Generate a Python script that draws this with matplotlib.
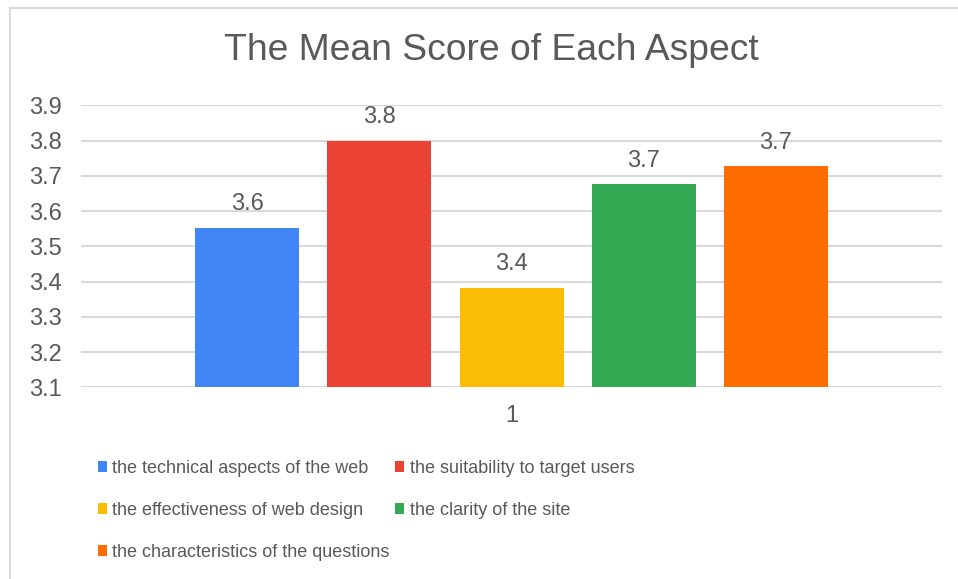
import matplotlib
matplotlib.use('Agg')
import matplotlib.pyplot as plt
from matplotlib.patches import Patch
from matplotlib.lines import Line2D

# data
aspects = ['the technical aspects of the web',
           'the suitability to target users',
           'the effectiveness of web design',
           'the clarity of the site',
           'the characteristics of the questions']
scores = [3.553, 3.800, 3.382, 3.676, 3.727]
score_labels = ['3.6', '3.8', '3.4', '3.7', '3.7']
colors = ['#4285f4', '#ea4335', '#fbbc04', '#34a853', '#ff6d01']
group_labels = ['1']
y_ticks = [3.1, 3.2, 3.3, 3.4, 3.5, 3.6, 3.7, 3.8, 3.9]

txt = '#595959'
grid = '#d9d9d9'
plt.rcParams['font.family'] = ['Liberation Sans', 'DejaVu Sans']

W, H = 958, 579
fig = plt.figure(figsize=(W / 100, H / 100), dpi=100)
fig.patch.set_facecolor('white')

# plot area in pixels
x0, x1, ytop, ybot = 81, 942, 105.3, 387.3
ax = fig.add_axes([x0 / W, 1 - ybot / H, (x1 - x0) / W, (ybot - ytop) / H])

step = 132.0
bw = 104.0 / step
half = (x1 - x0) / 2 / step
n = len(scores)
for i, (v, lab, c) in enumerate(zip(scores, score_labels, colors)):
    xc = i - (n - 1) / 2
    ax.bar(xc, v - 3.1, bottom=3.1, width=bw, color=c, zorder=3)
    ax.annotate(lab, (xc, v), xytext=(0, 9), textcoords='offset points',
                ha='center', va='bottom', fontsize=17, color=txt)

ax.set_xlim(-half, half)
ax.set_ylim(y_ticks[0], y_ticks[-1])
ax.set_yticks(y_ticks)
ax.set_yticklabels([f'{t:.1f}' for t in y_ticks])
ax.set_xticks([0])
ax.set_xticklabels(group_labels)
ax.tick_params(axis='both', length=0, labelsize=17, colors=txt)
ax.tick_params(axis='y', pad=14)
ax.tick_params(axis='x', pad=13)
ax.yaxis.grid(True, color=grid, linewidth=1.5, zorder=0)
for s in ax.spines.values():
    s.set_visible(False)

fig.text(491 / W, 1 - 51 / H, 'The Mean Score of Each Aspect', ha='center', va='center',
         fontsize=26.8, color=txt)

# legend, row-major order like the source
order = [0, 2, 4, 1, 3]
handles = [Patch(facecolor=colors[i], edgecolor='none') for i in order]
labels = [aspects[i] for i in order]
fig.legend(handles, labels, loc='upper left', bbox_to_anchor=(89 / W, 1 - 451 / H),
           ncol=2, frameon=False, fontsize=13, labelcolor=txt, borderpad=0,
           handlelength=0.5, handleheight=0.5, handletextpad=0.28,
           columnspacing=0.33, labelspacing=1.38)

# outer chart border (top and left edges are visible)
fig.add_artist(Line2D([10 / W, 1], [1 - 8 / H, 1 - 8 / H], color=grid, lw=1.5))
fig.add_artist(Line2D([10 / W, 10 / W], [0, 1 - 8 / H], color=grid, lw=1.5))

fig.savefig('out.png', dpi=100)
